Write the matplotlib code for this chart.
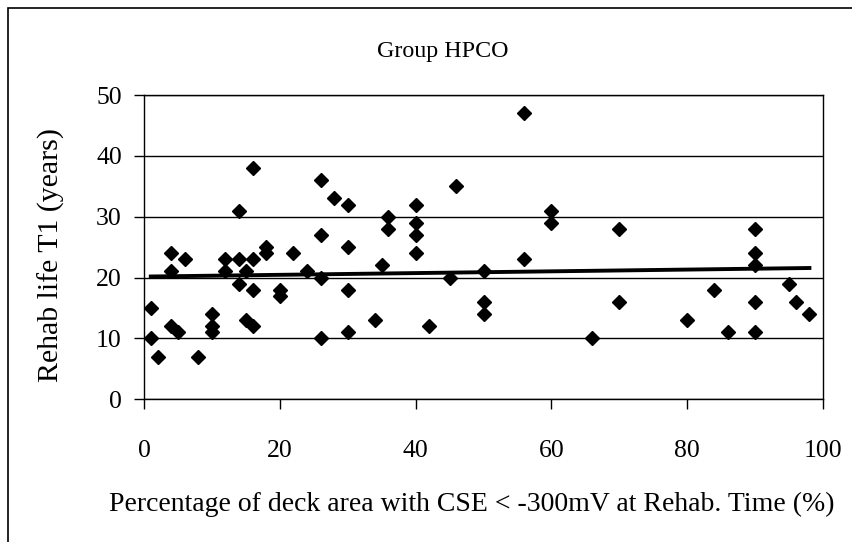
import numpy as np
import matplotlib
matplotlib.use('Agg')
import matplotlib.pyplot as plt
from matplotlib.patches import Rectangle

plt.rcParams['font.family'] = 'Liberation Serif'

# percentage of deck area with CSE < -300mV at rehab time
pct = [1, 1, 2, 4, 4, 4, 5, 6, 8, 10, 10, 10, 12, 12, 14, 14, 14, 15, 15,
       16, 16, 16, 16, 18, 18, 20, 20, 22, 24, 26, 26, 26, 26, 28, 30, 30,
       30, 30, 34, 35, 36, 36, 40, 40, 40, 40, 42, 45, 46, 50, 50, 50, 56,
       56, 60, 60, 66, 70, 70, 80, 84, 86, 90, 90, 90, 90, 90, 95, 96, 98]
# rehab life T1 (years)
life = [15, 10, 7, 24, 21, 12, 11, 23, 7, 14, 12, 11, 23, 21, 31, 23, 19, 21,
        13, 38, 23, 18, 12, 25, 24, 18, 17, 24, 21, 36, 27, 20, 10, 33, 32,
        25, 18, 11, 13, 22, 30, 28, 32, 29, 27, 24, 12, 20, 35, 21, 16, 14,
        47, 23, 31, 29, 10, 28, 16, 13, 18, 11, 28, 24, 22, 16, 11, 19, 16, 14]

xticks = [0, 20, 40, 60, 80, 100]
yticks = [0, 10, 20, 30, 40, 50]

W, H = 852, 542
fig = plt.figure(figsize=(W / 100, H / 100), dpi=100)

# chart area frame (only left and top visible)
fig.patches.append(Rectangle((8 / W, -0.1), 1.2, 1.1 - 8 / H, transform=fig.transFigure,
                             fill=False, edgecolor='black', linewidth=1.2))

ax = fig.add_axes([144 / W, 1 - 399.3 / H, (823 - 144) / W, (399.3 - 95) / H])
ax.set_xlim(0, 100)
ax.set_ylim(0, 50)
ax.set_xticks(xticks)
ax.set_yticks(yticks)
ax.yaxis.grid(True, color='black', linewidth=1.0)
ax.set_axisbelow(True)
for s in ax.spines.values():
    s.set_linewidth(1.0)
ax.tick_params(direction='out', length=7, width=1.0, labelsize=18.5)
ax.tick_params(axis='x', pad=22)
ax.tick_params(axis='y', pad=9)

ax.plot(pct, life, linestyle='none', marker='D', markersize=7,
        color='black', zorder=3)

# linear trendline
k, b = np.polyfit(pct, life, 1)
xs = np.array([min(pct), max(pct)])
ax.plot(xs, k * xs + b, color='black', linewidth=2.8, zorder=4)

fig.text(443 / W, 1 - 52 / H, 'Group HPCO', ha='center', va='center', fontsize=17.3)
fig.text(471.5 / W, 1 - 504 / H,
         'Percentage of deck area with CSE < -300mV at Rehab. Time (%)',
         ha='center', va='center', fontsize=20)
fig.text(51 / W, 1 - 255 / H, 'Rehab life T1 (years)', rotation=90,
         ha='center', va='center', fontsize=21.5)

fig.savefig('out.png', dpi=100)
